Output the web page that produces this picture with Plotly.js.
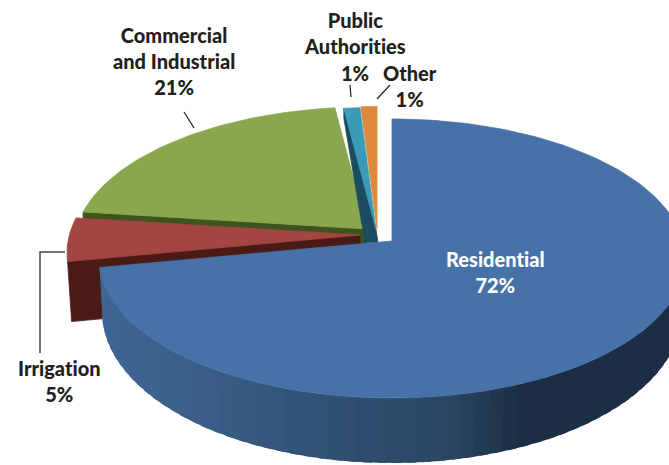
<!DOCTYPE html>
<html><head><meta charset="utf-8">
<script src="https://cdn.plot.ly/plotly-3.0.1.min.js"></script>
<style>html,body{margin:0;padding:0;background:#fff;overflow:hidden}#c{width:669px;height:465px}
.annotation-text{font-variant-ligatures:none;font-feature-settings:"liga" 0,"dlig" 0}</style>
</head><body><div id="c"></div>
<script>
// Data
const categories = ['Residential','Irrigation','Commercial<br>and Industrial','Public<br>Authorities','Other'];
const shares = [72,5,21,1,1];
const faceColors = ['#4672a8','#a34541','#8aa74d','#3c9ab9','#dc8a3e'];
const sideColors = ['#2a4766','#4a1a16','#3f5320','#1c4c60','#1c4c60'];
// Projection of the tilted pie (pixel space of the axes)
const RX=293, RY=139.5, APEX=17.5;
const centers = [[392,258.5],[360,252.5],[367,246.5],[376,247],[377,246]];
const wallX = [100,200,350,450,520,669];
const wallC = [[62,102,148],[58,94,136],[47,78,112],[42,70,98],[28,46,70],[27,46,70]];
const labelPos = [[495,272],[59,381],[174,61],[355,33],[410,86]];
const labelCol = ['#ffffff','#231f20','#231f20','#231f20','#231f20'];
const pctPos = [null,null,null,[355,73],null];
const labelFont = 'Lato,"Liberation Sans",sans-serif';

const traces=[];
function poly(xs,ys,color,w){
  traces.push({type:'scatter',mode:'lines',x:xs.concat(xs[0]),y:ys.concat(ys[0]),fill:'toself',fillcolor:color,
    line:{color:color,width:w===undefined?0.8:w},hoverinfo:'skip',showlegend:false});
}
// share fraction -> ellipse parameter, via a ray from the apex
function param(f){
  const th=f*2*Math.PI, dx=Math.sin(th), dy=-Math.cos(th), py=-APEX/RY;
  const pd=py*dy, s=-pd+Math.sqrt(pd*pd-(py*py-1));
  return Math.atan2(s*dx,-(py+s*dy));
}
function rim(c,u,rx,ry,cy){return [c[0]+(rx||RX)*Math.sin(u),(cy||c[1])-(ry||RY)*Math.cos(u)];}
function arc(c,f0,f1){
  let u0=param(f0),u1=param(f1);
  if(u0<0)u0+=2*Math.PI; if(u1<=0)u1+=2*Math.PI; if(f1>=1)u1=2*Math.PI;
  const p=[];const n=Math.max(6,Math.round((u1-u0)*40));
  for(let i=0;i<=n;i++)p.push(rim(c,u0+(u1-u0)*i/n));
  return p;
}
function sector(i,f0,f1,color){
  const c=centers[i],p=arc(c,f0,f1);
  poly([c[0]].concat(p.map(q=>q[0])),[c[1]-APEX].concat(p.map(q=>q[1])),color);
}
function cutWall(i,f,color,dx0,dy0,dx1,dy1,extra){
  const c=centers[i],r=rim(c,param(f)),a=[c[0],c[1]-APEX];
  const xs=[r[0],a[0]],ys=[r[1],a[1]];
  if(extra){xs.push(a[0]+extra);ys.push(a[1]+dy1);}
  xs.push(a[0]+dx1,r[0]+dx0);ys.push(a[1]+dy1,r[1]+dy0);
  poly(xs,ys,color);
}
function wallColor(x){
  let k=0; while(k<wallX.length-2&&x>wallX[k+1])k++;
  const t=Math.min(1,Math.max(0,(x-wallX[k])/(wallX[k+1]-wallX[k])));
  const m=wallC[k].map((v,j)=>Math.round(v+(wallC[k+1][j]-v)*t));
  return 'rgb('+m.join(',')+')';
}
const total=shares.reduce((a,b)=>a+b,0);
const bounds=[0];shares.forEach(v=>bounds.push(bounds[bounds.length-1]+v/total));

// back slices first
cutWall(2,bounds[2],sideColors[2],0,60,0,60);
sector(2,bounds[2],bounds[3],faceColors[2]);
cutWall(3,bounds[3],sideColors[3],0,10,-11,13,2);
sector(3,bounds[3],bounds[4],faceColors[3]);
sector(4,bounds[4],bounds[5],faceColors[4]);
cutWall(1,bounds[1],sideColors[1],4,60,0,60);
sector(1,bounds[1],bounds[2],faceColors[1]);
// main slice wall, banded along x, painted right to left with overlap
(function(){
  const c=centers[0];let u0=param(bounds[1]);if(u0<0)u0+=2*Math.PI;
  const start=Math.PI/2,n=60;
  for(let i=0;i<n;i++){
    const a=start+(u0-start)*i/n,b=start+(u0-start)*Math.min(n,i+1.6)/n,m=start+(u0-start)*(i+0.5)/n;
    const r0=rim(c,a),r1=rim(c,b),q0=rim(c,a,290,151,312),q1=rim(c,b,290,151,312);
    poly([r0[0],r1[0],q1[0],q0[0]],[r0[1],r1[1],q1[1],q0[1]],wallColor(rim(c,m)[0]),0);
  }
})();
sector(0,bounds[0],bounds[1],faceColors[0]);

// leader lines
const leaders=[[[184,194],[112,128],'#231f20',1.2],[[350,351],[85,97],'#231f20',1.2],[[390,377],[85,99],'#231f20',1.2],[[65,40,40],[252,252,353],'#444444',1.5]];
leaders.forEach(l=>traces.push({type:'scatter',mode:'lines',x:l[0],y:l[1],line:{color:l[2],width:l[3]},hoverinfo:'skip',showlegend:false}));

const annotations=categories.map((name,i)=>{
  const sep=pctPos[i]?'':'<br>'+shares[i]+'%';
  return {x:labelPos[i][0],y:labelPos[i][1],xref:'x',yref:'y',text:name+sep,showarrow:false,
    font:{family:labelFont,size:20,weight:900,color:labelCol[i]},align:'center'};
});
pctPos.forEach((p,i)=>{ if(p) annotations.push({x:p[0],y:p[1],xref:'x',yref:'y',text:shares[i]+'%',showarrow:false,
    font:{family:labelFont,size:20,weight:900,color:labelCol[i]}});});

Plotly.newPlot('c',traces,{width:669,height:465,margin:{l:0,r:0,t:0,b:0},paper_bgcolor:'#fff',plot_bgcolor:'#fff',showlegend:false,
  xaxis:{range:[0,669],visible:false,fixedrange:true},yaxis:{range:[465,0],visible:false,fixedrange:true},annotations:annotations},{displayModeBar:false,staticPlot:true});
</script></body></html>
